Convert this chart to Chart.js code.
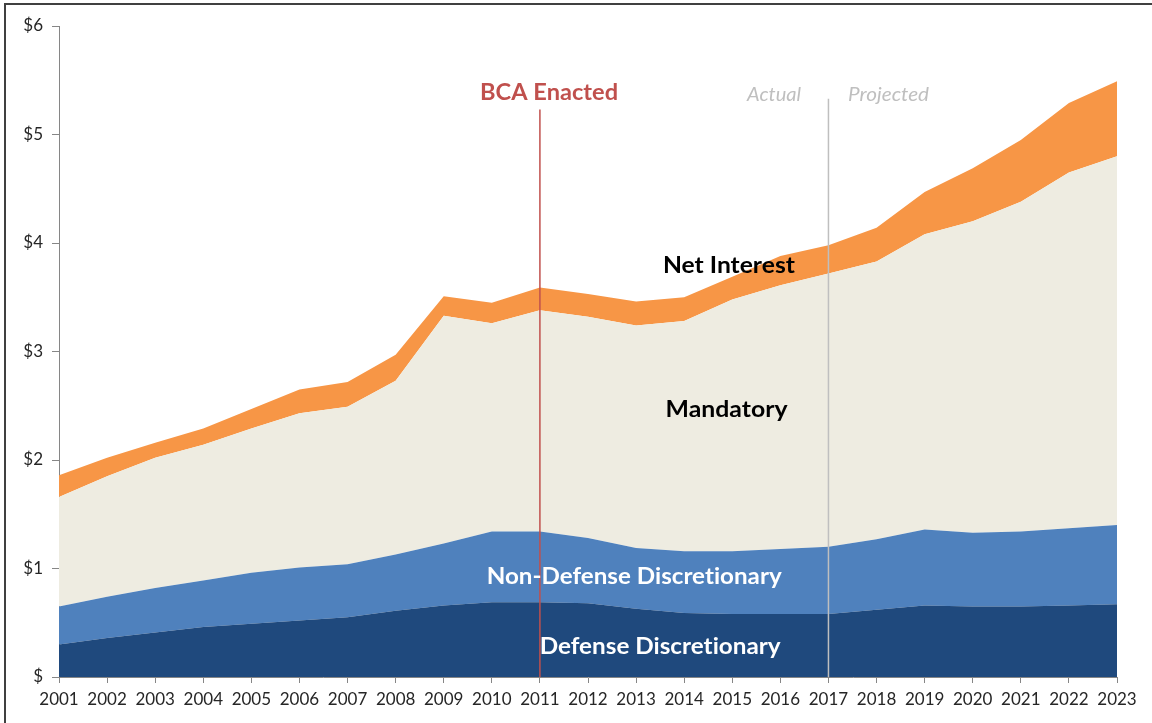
<!DOCTYPE html>
<html>
<head>
<meta charset="utf-8">
<script src="https://cdn.jsdelivr.net/npm/chart.js@4/dist/chart.umd.min.js"></script>
<style>
  html, body { margin: 0; padding: 0; background: #ffffff; }
  #wrap { position: relative; width: 1152px; height: 723px; }
</style>
</head>
<body>
<div id="wrap"><canvas id="c"></canvas></div>
<script>
// ---- Data (trillions of dollars) ----
const years = ['2001','2002','2003','2004','2005','2006','2007','2008','2009','2010','2011','2012',
               '2013','2014','2015','2016','2017','2018','2019','2020','2021','2022','2023'];
const defenseDiscretionary = [0.30,0.36,0.41,0.46,0.49,0.52,0.55,0.61,0.66,0.69,0.69,0.68,
                              0.63,0.59,0.58,0.58,0.58,0.62,0.66,0.65,0.65,0.66,0.67];
const nonDefenseDiscretionary = [0.35,0.38,0.41,0.43,0.47,0.49,0.49,0.52,0.57,0.65,0.65,0.60,
                                 0.56,0.57,0.58,0.60,0.62,0.65,0.70,0.68,0.69,0.71,0.73];
const mandatory = [1.01,1.11,1.20,1.25,1.33,1.42,1.45,1.60,2.10,1.92,2.04,2.04,
                   2.05,2.12,2.32,2.43,2.52,2.56,2.72,2.87,3.04,3.28,3.40];
const netInterest = [0.20,0.17,0.14,0.15,0.18,0.22,0.23,0.24,0.18,0.19,0.21,0.21,
                     0.22,0.22,0.21,0.27,0.26,0.31,0.39,0.49,0.57,0.64,0.69];
const yTickLabels = ['$','$1','$2','$3','$4','$5','$6'];
const bcaYear = '2011';
const projectionStartYear = '2017';

// ---- Fonts ----
function fontAvailable(name) {
  const cv = document.createElement('canvas').getContext('2d');
  const s = 'abcdefghijklmnopqrstuvwxyz0123456789';
  cv.font = '20px monospace'; const a = cv.measureText(s).width;
  cv.font = '20px "' + name + '", monospace'; const b = cv.measureText(s).width;
  return a !== b;
}
const tickFamily = fontAvailable('Liberation Sans Narrow') ? '"Liberation Sans Narrow", Lato, sans-serif' : 'Lato, sans-serif';
const labelFamily = 'Lato, "Open Sans", sans-serif';

// ---- Annotation plugin ----
const annotations = {
  id: 'annotations',
  afterDatasetsDraw(chart) {
    const { ctx, scales: { x, y } } = chart;
    const bx = x.getPixelForValue(years.indexOf(bcaYear));
    const px = x.getPixelForValue(years.indexOf(projectionStartYear));
    const y0 = y.getPixelForValue(0);
    ctx.save();
    // vertical marker lines
    ctx.lineWidth = 1.5;
    ctx.strokeStyle = '#BFBFBF';
    ctx.beginPath(); ctx.moveTo(px, y.getPixelForValue(5.33)); ctx.lineTo(px, y0); ctx.stroke();
    ctx.strokeStyle = '#C0504D';
    ctx.beginPath(); ctx.moveTo(bx, y.getPixelForValue(5.23)); ctx.lineTo(bx, y0); ctx.stroke();

    // text labels
    function label(text, xi, yv, font, color, width, align) {
      ctx.save();
      ctx.font = font;
      if ('letterSpacing' in ctx) ctx.letterSpacing = '0.01px';
      ctx.fillStyle = color;
      ctx.textBaseline = 'alphabetic';
      const m = ctx.measureText(text).width;
      const sx = width / m;
      const cx = x.getPixelForValue(xi);
      const by = y.getPixelForValue(yv);
      ctx.translate(cx, by);
      ctx.scale(sx, 1);
      ctx.textAlign = align || 'center';
      ctx.fillText(text, 0, 0);
      ctx.restore();
    }
    const bold = 'bold 23px ' + labelFamily;
    label('BCA Enacted', 10.19, 5.318, bold, '#C0504D', 138);
    label('Actual', 14.87, 5.309, 'italic 20px ' + labelFamily, '#BFBFBF', 54);
    label('Projected', 17.25, 5.309, 'italic 20px ' + labelFamily, '#BFBFBF', 81);
    label('Net Interest', 13.93, 3.721, bold, '#000000', 132);
    label('Mandatory', 13.88, 2.396, bold, '#000000', 122);
    label('Non-Defense Discretionary', 11.96, 0.857, bold, '#FFFFFF', 295);
    label('Defense Discretionary', 12.50, 0.209, bold, '#FFFFFF', 241);
    ctx.restore();
  },
  afterDraw(chart) {
    const ctx = chart.ctx;
    ctx.save();
    ctx.strokeStyle = '#404040';
    ctx.lineWidth = 2;
    ctx.strokeRect(5, 4, 1160, 730);
    ctx.restore();
  }
};

const common = { pointRadius: 0, pointHoverRadius: 0, borderWidth: 0, tension: 0 };

new Chart(document.getElementById('c'), {
  type: 'line',
  data: {
    labels: years,
    datasets: [
      Object.assign({ label: 'Defense Discretionary', data: defenseDiscretionary,
        backgroundColor: '#1F497D', borderColor: '#1F497D', fill: 'origin' }, common),
      Object.assign({ label: 'Non-Defense Discretionary', data: nonDefenseDiscretionary,
        backgroundColor: '#4F81BD', borderColor: '#4F81BD', fill: '-1' }, common),
      Object.assign({ label: 'Mandatory', data: mandatory,
        backgroundColor: '#EEECE1', borderColor: '#EEECE1', fill: '-1' }, common),
      Object.assign({ label: 'Net Interest', data: netInterest,
        backgroundColor: '#F79646', borderColor: '#F79646', fill: '-1' }, common)
    ]
  },
  options: {
    responsive: true,
    maintainAspectRatio: false,
    animation: false,
    events: [],
    layout: { padding: { left: 0, top: 26, right: 35, bottom: 0 } },
    plugins: { legend: { display: false }, tooltip: { enabled: false } },
    scales: {
      x: {
        offset: false,
        grid: { display: true, drawOnChartArea: false, drawTicks: true, tickLength: 6, color: '#868686', lineWidth: 1 },
        border: { display: true, color: '#868686', width: 1 },
        ticks: { color: '#262626', font: { family: tickFamily, size: 17 }, padding: 6, maxRotation: 0, autoSkip: false },
        afterFit(scale) { scale.height = 46; }
      },
      y: {
        stacked: true,
        min: 0, max: 6,
        grid: { display: true, drawOnChartArea: false, drawTicks: true, tickLength: 7, color: '#868686', lineWidth: 1 },
        border: { display: true, color: '#868686', width: 1 },
        ticks: { stepSize: 1, color: '#262626', font: { family: tickFamily, size: 17 }, padding: 9,
                 callback: (v) => yTickLabels[v] },
        afterFit(scale) { scale.width = 59; }
      }
    }
  },
  plugins: [annotations]
});
</script>
</body>
</html>
